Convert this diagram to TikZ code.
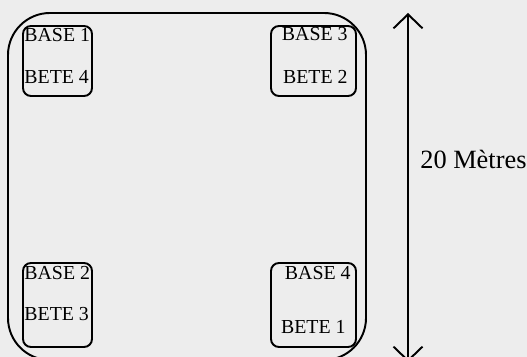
\documentclass[tikz,border=0pt]{standalone}
\usepackage{fontspec}
\setmainfont{Liberation Serif}
\usetikzlibrary{positioning}
\usetikzlibrary{arrows.meta}

\tikzset{
  basebox/.style={draw, line width=1.1pt, rounded corners=0.16cm, inner sep=0pt},
  basetext/.style={font=\fontsize{11.3}{13}\selectfont, inner sep=0pt},
}

\begin{document}
\begin{tikzpicture}
\fill[black!7] (0,0) rectangle (10.54,7.14);
\useasboundingbox (0,0) rectangle (10.54,7.14);

% The field
\draw[line width=1.1pt,rounded corners=0.84cm] (0.16,-0.06) rectangle (7.32,6.88);

% Corner bases
\node[basebox,minimum width=1.38cm,minimum height=1.40cm] (b1) at (1.15,5.92) {};
\node[basebox,minimum width=1.70cm,minimum height=1.40cm] (b3) at (6.27,5.92) {};
\node[basebox,minimum width=1.38cm,minimum height=1.68cm] (b2) at (1.15,1.04) {};
\node[basebox,minimum width=1.70cm,minimum height=1.68cm] (b4) at (6.27,1.04) {};

% Labels inside the bases
\node[basetext,below right=0.06cm and 0.04cm of b1.north west] (base1) {BASE 1};
\node[basetext,above right=0.26cm and 0.04cm of b1.south west] (bete4) {BETE 4};
\node[basetext,below left=0.04cm and 0.18cm of b3.north east] (base3) {BASE 3};
\node[basetext,above left=0.26cm and 0.18cm of b3.south east] (bete2) {BETE 2};
\node[basetext,below right=0.08cm and 0.04cm of b2.north west] (base2) {BASE 2};
\node[basetext,above right=0.54cm and 0.04cm of b2.south west] (bete3) {BETE 3};
\node[basetext,below left=0.08cm and 0.12cm of b4.north east] (base4) {BASE 4};
\node[basetext,above left=0.28cm and 0.22cm of b4.south east] (bete1) {BETE 1};

% Length of the field
\coordinate (dimtop) at (8.16,6.88);
\coordinate (dimbot) at (8.16,-0.10);
\coordinate (dimmid) at (8.16,3.96);
\draw[line width=1.1pt,{Straight Barb[length=0.28cm,width=0.58cm]}-{Straight Barb[length=0.28cm,width=0.58cm]}]
    (dimbot) -- (dimtop);
\node[font=\fontsize{15}{18}\selectfont,inner sep=0pt,right=0.24cm of dimmid] (len) {20 Mètres};
\end{tikzpicture}
\end{document}
